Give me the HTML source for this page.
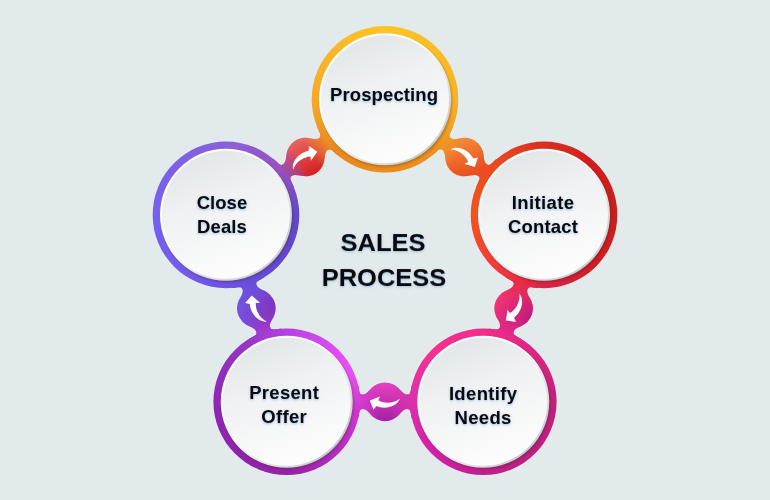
<!DOCTYPE html>
<html lang="en">
<head>
<meta charset="utf-8">
<title>Sales Process</title>
<style>
html,body{margin:0;padding:0;}
body{width:770px;height:500px;overflow:hidden;background:#e2eaec;font-family:"Liberation Sans",sans-serif;}
#stage{position:relative;width:770px;height:500px;overflow:hidden;background:#e2eaec;}
svg{position:absolute;left:0;top:0;}
.ring,.disc,.face{position:absolute;}
.lbl{position:absolute;text-align:center;font-weight:bold;color:#0a0a0c;font-size:18.5px;line-height:24px;
 text-shadow:0 1px 2.5px rgba(120,170,220,.75);white-space:nowrap;will-change:transform;}
.title{position:absolute;text-align:center;font-weight:bold;color:#0a0a0c;font-size:25.5px;line-height:35px;
 text-shadow:0 1px 2.5px rgba(120,170,220,.7);white-space:nowrap;will-change:transform;}
</style>
</head>
<body>
<div id="stage">
<svg width="770" height="500" viewBox="0 0 770 500">
<defs>
<linearGradient id="na0" gradientUnits="userSpaceOnUse" x1="442.42" y1="141.02" x2="459.65" y2="153.54"><stop offset="0" stop-color="#ef9722"/><stop offset="1" stop-color="#ef9722" stop-opacity="0"/></linearGradient>
<linearGradient id="nb0" gradientUnits="userSpaceOnUse" x1="486.59" y1="173.11" x2="469.36" y2="160.59"><stop offset="0" stop-color="#ec4c20"/><stop offset="1" stop-color="#ec4c20" stop-opacity="0"/></linearGradient>
<linearGradient id="bg0" gradientUnits="userSpaceOnUse" x1="460.72" y1="138.14" x2="468.29" y2="175.99"><stop offset="0" stop-color="#f4883a"/><stop offset="1" stop-color="#e85020"/></linearGradient>
<linearGradient id="na1" gradientUnits="userSpaceOnUse" x1="522.08" y1="282.34" x2="515.5" y2="302.59"><stop offset="0" stop-color="#e42d44"/><stop offset="1" stop-color="#e42d44" stop-opacity="0"/></linearGradient>
<linearGradient id="nb1" gradientUnits="userSpaceOnUse" x1="505.21" y1="334.26" x2="511.79" y2="314.01"><stop offset="0" stop-color="#e82a88"/><stop offset="1" stop-color="#e82a88" stop-opacity="0"/></linearGradient>
<linearGradient id="bg1" gradientUnits="userSpaceOnUse" x1="499.3" y1="295.39" x2="527.99" y2="321.21"><stop offset="0" stop-color="#f43474"/><stop offset="1" stop-color="#c01c7c"/></linearGradient>
<linearGradient id="na2" gradientUnits="userSpaceOnUse" x1="412.3" y1="401.77" x2="391" y2="401.77"><stop offset="0" stop-color="#dc30ac"/><stop offset="1" stop-color="#dc30ac" stop-opacity="0"/></linearGradient>
<linearGradient id="nb2" gradientUnits="userSpaceOnUse" x1="357.7" y1="401.77" x2="379" y2="401.77"><stop offset="0" stop-color="#d43cd6"/><stop offset="1" stop-color="#d43cd6" stop-opacity="0"/></linearGradient>
<linearGradient id="bg2" gradientUnits="userSpaceOnUse" x1="385" y1="382.47" x2="385" y2="421.07"><stop offset="0" stop-color="#e840c0"/><stop offset="1" stop-color="#a422a4"/></linearGradient>
<linearGradient id="na3" gradientUnits="userSpaceOnUse" x1="264.79" y1="334.26" x2="258.21" y2="314.01"><stop offset="0" stop-color="#a53cd3"/><stop offset="1" stop-color="#a53cd3" stop-opacity="0"/></linearGradient>
<linearGradient id="nb3" gradientUnits="userSpaceOnUse" x1="247.92" y1="282.34" x2="254.5" y2="302.59"><stop offset="0" stop-color="#684fda"/><stop offset="1" stop-color="#684fda" stop-opacity="0"/></linearGradient>
<linearGradient id="bg3" gradientUnits="userSpaceOnUse" x1="237.87" y1="302.75" x2="274.84" y2="313.85"><stop offset="0" stop-color="#7256e6"/><stop offset="1" stop-color="#8232b8"/></linearGradient>
<linearGradient id="na4" gradientUnits="userSpaceOnUse" x1="283.41" y1="173.11" x2="300.64" y2="160.59"><stop offset="0" stop-color="#924fc1"/><stop offset="1" stop-color="#924fc1" stop-opacity="0"/></linearGradient>
<linearGradient id="nb4" gradientUnits="userSpaceOnUse" x1="327.58" y1="141.02" x2="310.35" y2="153.54"><stop offset="0" stop-color="#ec8f22"/><stop offset="1" stop-color="#ec8f22" stop-opacity="0"/></linearGradient>
<linearGradient id="bg4" gradientUnits="userSpaceOnUse" x1="296.86" y1="139.8" x2="314.12" y2="174.33"><stop offset="0" stop-color="#e86464"/><stop offset="1" stop-color="#d42020"/></linearGradient>
</defs>
<clipPath id="cp0"><path d="M-29.43,-1 L-29.43,16.53 L-27,17.11 C-25.37,10.3 -25.9,7.3 -22.3,7.3 C-16.8,7.3 -15.41,14.11 -8.16,17.49 A19.3,19.3 0 0 0 8.16,17.49 C15.41,14.11 16.8,7.3 22.3,7.3 C25.9,7.3 25.37,10.3 27,17.11 L29.43,16.53 L29.43,-1 Z" transform="translate(464.51 157.07) rotate(36)"/><path d="M-29.43,1 L-29.43,-16.53 L-27,-17.11 C-25.37,-10.3 -25.9,-7.3 -22.3,-7.3 C-16.8,-7.3 -15.41,-14.11 -8.16,-17.49 A19.3,19.3 0 0 1 8.16,-17.49 C15.41,-14.11 16.8,-7.3 22.3,-7.3 C25.9,-7.3 25.37,-10.3 27,-17.11 L29.43,-16.53 L29.43,1 Z" transform="translate(464.51 157.07) rotate(36)"/></clipPath>
<g clip-path="url(#cp0)"><rect x="424.51" y="117.07" width="80" height="80" fill="url(#bg0)"/><rect x="424.51" y="117.07" width="80" height="80" fill="url(#na0)"/><rect x="424.51" y="117.07" width="80" height="80" fill="url(#nb0)"/></g>
<clipPath id="cp1"><path d="M-29.43,-1 L-29.43,16.53 L-27,17.11 C-25.37,10.3 -25.9,7.3 -22.3,7.3 C-16.8,7.3 -15.41,14.11 -8.16,17.49 A19.3,19.3 0 0 0 8.16,17.49 C15.41,14.11 16.8,7.3 22.3,7.3 C25.9,7.3 25.37,10.3 27,17.11 L29.43,16.53 L29.43,-1 Z" transform="translate(513.65 308.3) rotate(108)"/><path d="M-29.43,1 L-29.43,-16.53 L-27,-17.11 C-25.37,-10.3 -25.9,-7.3 -22.3,-7.3 C-16.8,-7.3 -15.41,-14.11 -8.16,-17.49 A19.3,19.3 0 0 1 8.16,-17.49 C15.41,-14.11 16.8,-7.3 22.3,-7.3 C25.9,-7.3 25.37,-10.3 27,-17.11 L29.43,-16.53 L29.43,1 Z" transform="translate(513.65 308.3) rotate(108)"/></clipPath>
<g clip-path="url(#cp1)"><rect x="473.65" y="268.3" width="80" height="80" fill="url(#bg1)"/><rect x="473.65" y="268.3" width="80" height="80" fill="url(#na1)"/><rect x="473.65" y="268.3" width="80" height="80" fill="url(#nb1)"/></g>
<clipPath id="cp2"><path d="M-29.43,-1 L-29.43,16.53 L-27,17.11 C-25.37,10.3 -25.9,7.3 -22.3,7.3 C-16.8,7.3 -15.41,14.11 -8.16,17.49 A19.3,19.3 0 0 0 8.16,17.49 C15.41,14.11 16.8,7.3 22.3,7.3 C25.9,7.3 25.37,10.3 27,17.11 L29.43,16.53 L29.43,-1 Z" transform="translate(385 401.77) rotate(180)"/><path d="M-29.43,1 L-29.43,-16.53 L-27,-17.11 C-25.37,-10.3 -25.9,-7.3 -22.3,-7.3 C-16.8,-7.3 -15.41,-14.11 -8.16,-17.49 A19.3,19.3 0 0 1 8.16,-17.49 C15.41,-14.11 16.8,-7.3 22.3,-7.3 C25.9,-7.3 25.37,-10.3 27,-17.11 L29.43,-16.53 L29.43,1 Z" transform="translate(385 401.77) rotate(180)"/></clipPath>
<g clip-path="url(#cp2)"><rect x="345" y="361.77" width="80" height="80" fill="url(#bg2)"/><rect x="345" y="361.77" width="80" height="80" fill="url(#na2)"/><rect x="345" y="361.77" width="80" height="80" fill="url(#nb2)"/></g>
<clipPath id="cp3"><path d="M-29.43,-1 L-29.43,16.53 L-27,17.11 C-25.37,10.3 -25.9,7.3 -22.3,7.3 C-16.8,7.3 -15.41,14.11 -8.16,17.49 A19.3,19.3 0 0 0 8.16,17.49 C15.41,14.11 16.8,7.3 22.3,7.3 C25.9,7.3 25.37,10.3 27,17.11 L29.43,16.53 L29.43,-1 Z" transform="translate(256.35 308.3) rotate(-108)"/><path d="M-29.43,1 L-29.43,-16.53 L-27,-17.11 C-25.37,-10.3 -25.9,-7.3 -22.3,-7.3 C-16.8,-7.3 -15.41,-14.11 -8.16,-17.49 A19.3,19.3 0 0 1 8.16,-17.49 C15.41,-14.11 16.8,-7.3 22.3,-7.3 C25.9,-7.3 25.37,-10.3 27,-17.11 L29.43,-16.53 L29.43,1 Z" transform="translate(256.35 308.3) rotate(-108)"/></clipPath>
<g clip-path="url(#cp3)"><rect x="216.35" y="268.3" width="80" height="80" fill="url(#bg3)"/><rect x="216.35" y="268.3" width="80" height="80" fill="url(#na3)"/><rect x="216.35" y="268.3" width="80" height="80" fill="url(#nb3)"/></g>
<clipPath id="cp4"><path d="M-29.43,-1 L-29.43,16.53 L-27,17.11 C-25.37,10.3 -25.9,7.3 -22.3,7.3 C-16.8,7.3 -15.41,14.11 -8.16,17.49 A19.3,19.3 0 0 0 8.16,17.49 C15.41,14.11 16.8,7.3 22.3,7.3 C25.9,7.3 25.37,10.3 27,17.11 L29.43,16.53 L29.43,-1 Z" transform="translate(305.49 157.07) rotate(-36)"/><path d="M-29.43,1 L-29.43,-16.53 L-27,-17.11 C-25.37,-10.3 -25.9,-7.3 -22.3,-7.3 C-16.8,-7.3 -15.41,-14.11 -8.16,-17.49 A19.3,19.3 0 0 1 8.16,-17.49 C15.41,-14.11 16.8,-7.3 22.3,-7.3 C25.9,-7.3 25.37,-10.3 27,-17.11 L29.43,-16.53 L29.43,1 Z" transform="translate(305.49 157.07) rotate(-36)"/></clipPath>
<g clip-path="url(#cp4)"><rect x="265.49" y="117.07" width="80" height="80" fill="url(#bg4)"/><rect x="265.49" y="117.07" width="80" height="80" fill="url(#na4)"/><rect x="265.49" y="117.07" width="80" height="80" fill="url(#nb4)"/></g>
</svg>
<div class="ring" style="left:310px;top:24px;width:150px;height:150px;clip-path:circle(73.3px at 75px 75.3px);background:radial-gradient(circle at 76.1px 76.8px, rgba(60,20,0,.24) 64.5px, rgba(60,20,0,0) 67.9px),conic-gradient(from 0deg at 75px 75.3px, #fcc426 0deg, #fbbd26 45deg, #fab226 90deg, #f2a023 115deg, #ec9022 135deg, #e98c1e 180deg, #e98820 225deg, #f09a24 248deg, #f6a82a 270deg, #f9b828 315deg, #fcc426 360deg);"></div>
<div class="disc" style="left:310px;top:24px;width:150px;height:150px;clip-path:circle(66px at 75px 75.3px);background:linear-gradient(135deg,#ffffff 46.4px,#f6f8f9 102.4px,#c6ced2 173.3px);"></div>
<div class="face" style="left:310px;top:24px;width:150px;height:150px;clip-path:circle(64px at 75px 75.3px);background:linear-gradient(160deg,#e1e5e7 22.3px,#eff1f2 79.8px,#fcfcfc 153.6px);"></div>
<div class="ring" style="left:469px;top:139px;width:150px;height:150px;clip-path:circle(73.3px at 75.02px 75.83px);background:radial-gradient(circle at 76.12px 77.33px, rgba(60,20,0,.24) 64.5px, rgba(60,20,0,0) 67.9px),conic-gradient(from 0deg at 75.02px 75.83px, #d83020 0deg, #d01c1c 45deg, #c8201e 90deg, #d01c24 135deg, #d8244a 180deg, #f63a3a 225deg, #f4521e 270deg, #ea4a20 315deg, #d83020 360deg);"></div>
<div class="disc" style="left:469px;top:139px;width:150px;height:150px;clip-path:circle(66px at 75.02px 75.83px);background:linear-gradient(135deg,#ffffff 46.4px,#f6f8f9 102.4px,#c6ced2 173.3px);"></div>
<div class="face" style="left:469px;top:139px;width:150px;height:150px;clip-path:circle(64px at 75.02px 75.83px);background:linear-gradient(160deg,#e1e5e7 22.3px,#eff1f2 79.8px,#fcfcfc 153.6px);"></div>
<div class="ring" style="left:408px;top:326px;width:150px;height:150px;clip-path:circle(73.3px at 75.28px 75.77px);background:radial-gradient(circle at 76.38px 77.27px, rgba(60,20,0,.24) 64.5px, rgba(60,20,0,0) 67.9px),conic-gradient(from 0deg at 75.28px 75.77px, #f02c8c 0deg, #dc2682 45deg, #c0207a 90deg, #bc2080 135deg, #c0208c 180deg, #d020a8 225deg, #dc30ac 270deg, #f83090 315deg, #f02c8c 360deg);"></div>
<div class="disc" style="left:408px;top:326px;width:150px;height:150px;clip-path:circle(66px at 75.28px 75.77px);background:linear-gradient(135deg,#ffffff 46.4px,#f6f8f9 102.4px,#c6ced2 173.3px);"></div>
<div class="face" style="left:408px;top:326px;width:150px;height:150px;clip-path:circle(64px at 75.28px 75.77px);background:linear-gradient(160deg,#e1e5e7 22.3px,#eff1f2 79.8px,#fcfcfc 153.6px);"></div>
<div class="ring" style="left:211px;top:326px;width:150px;height:150px;clip-path:circle(73.3px at 75.72px 75.77px);background:radial-gradient(circle at 76.82px 77.27px, rgba(60,20,0,.24) 64.5px, rgba(60,20,0,0) 67.9px),conic-gradient(from 0deg at 75.72px 75.77px, #b442e2 0deg, #e24af8 45deg, #e650f4 65deg, #d038d0 95deg, #ae2cbc 140deg, #9622a4 180deg, #8e24aa 225deg, #8c28b4 270deg, #9636c4 325deg, #b442e2 360deg);"></div>
<div class="disc" style="left:211px;top:326px;width:150px;height:150px;clip-path:circle(66px at 75.72px 75.77px);background:linear-gradient(135deg,#ffffff 46.4px,#f6f8f9 102.4px,#c6ced2 173.3px);"></div>
<div class="face" style="left:211px;top:326px;width:150px;height:150px;clip-path:circle(64px at 75.72px 75.77px);background:linear-gradient(160deg,#e1e5e7 22.3px,#eff1f2 79.8px,#fcfcfc 153.6px);"></div>
<div class="ring" style="left:150px;top:139px;width:150px;height:150px;clip-path:circle(73.3px at 75.98px 75.83px);background:radial-gradient(circle at 77.08px 77.33px, rgba(60,20,0,.24) 64.5px, rgba(60,20,0,0) 67.9px),conic-gradient(from 0deg at 75.98px 75.83px, #8a60d8 0deg, #9850c0 50deg, #6048c8 90deg, #6248d2 135deg, #6c54e0 180deg, #725cea 225deg, #7560f0 270deg, #7e60e6 315deg, #8a60d8 360deg);"></div>
<div class="disc" style="left:150px;top:139px;width:150px;height:150px;clip-path:circle(66px at 75.98px 75.83px);background:linear-gradient(135deg,#ffffff 46.4px,#f6f8f9 102.4px,#c6ced2 173.3px);"></div>
<div class="face" style="left:150px;top:139px;width:150px;height:150px;clip-path:circle(64px at 75.98px 75.83px);background:linear-gradient(160deg,#e1e5e7 22.3px,#eff1f2 79.8px,#fcfcfc 153.6px);"></div>
<svg width="770" height="500" viewBox="0 0 770 500">
<path d="M-15.2,-1.3 L-5,-5.4 L-6.8,-1.6 C-2,1.5 8,2.5 14.9,-3.2 C12,5 0,8 -8.6,4.3 L-11.5,8 Z" fill="#ffffff" transform="translate(463.91 156.37) rotate(-140.58)"/>
<path d="M-15.2,-1.3 L-5,-5.4 L-6.8,-1.6 C-2,1.5 8,2.5 14.9,-3.2 C12,5 0,8 -8.6,4.3 L-11.5,8 Z" fill="#ffffff" transform="translate(514.63 307.99) rotate(-60.17)"/>
<path d="M-15.2,-1.3 L-5,-5.4 L-6.8,-1.6 C-2,1.5 8,2.5 14.9,-3.2 C12,5 0,8 -8.6,4.3 L-11.5,8 Z" fill="#ffffff" transform="translate(385 401.8) rotate(0)"/>
<path d="M-15.2,-1.3 L-5,-5.4 L-6.8,-1.6 C-2,1.5 8,2.5 14.9,-3.2 C12,5 0,8 -8.6,4.3 L-11.5,8 Z" fill="#ffffff" transform="translate(257.46 309.74) rotate(-296.7)"/>
<path d="M-15.2,-1.3 L-5,-5.4 L-6.8,-1.6 C-2,1.5 8,2.5 14.9,-3.2 C12,5 0,8 -8.6,4.3 L-11.5,8 Z" fill="#ffffff" transform="translate(303.84 159) rotate(-213.26)"/>
</svg>
<div class="lbl" style="left:304.4px;top:83.39px;width:160px;letter-spacing:0.12px;text-indent:0.12px;">Prospecting</div>
<div class="lbl" style="left:463.4px;top:191.09px;width:160px;letter-spacing:0.38px;text-indent:0.38px;">Initiate</div>
<div class="lbl" style="left:462.8px;top:215.09px;width:160px;letter-spacing:0.15px;text-indent:0.15px;">Contact</div>
<div class="lbl" style="left:402.6px;top:381.89px;width:160px;letter-spacing:0.35px;text-indent:0.35px;">Identify</div>
<div class="lbl" style="left:403.2px;top:405.89px;width:160px;letter-spacing:0.32px;text-indent:0.32px;">Needs</div>
<div class="lbl" style="left:203.9px;top:381.39px;width:160px;letter-spacing:0.3px;text-indent:0.3px;">Present</div>
<div class="lbl" style="left:204.4px;top:405.49px;width:160px;letter-spacing:0.3px;text-indent:0.3px;">Offer</div>
<div class="lbl" style="left:142px;top:191.49px;width:160px;letter-spacing:0.03px;text-indent:0.03px;">Close</div>
<div class="lbl" style="left:142.3px;top:215.49px;width:160px;letter-spacing:0.1px;text-indent:0.1px;">Deals</div>
<div class="title" style="left:283.4px;top:225.27px;width:200px;transform-origin:50% 25.93px;transform:scaleY(0.94);">SALES</div>
<div class="title" style="left:283.7px;top:260.07px;width:200px;transform-origin:50% 25.93px;transform:scaleY(0.94);">PROCESS</div>
</div>
</body>
</html>
